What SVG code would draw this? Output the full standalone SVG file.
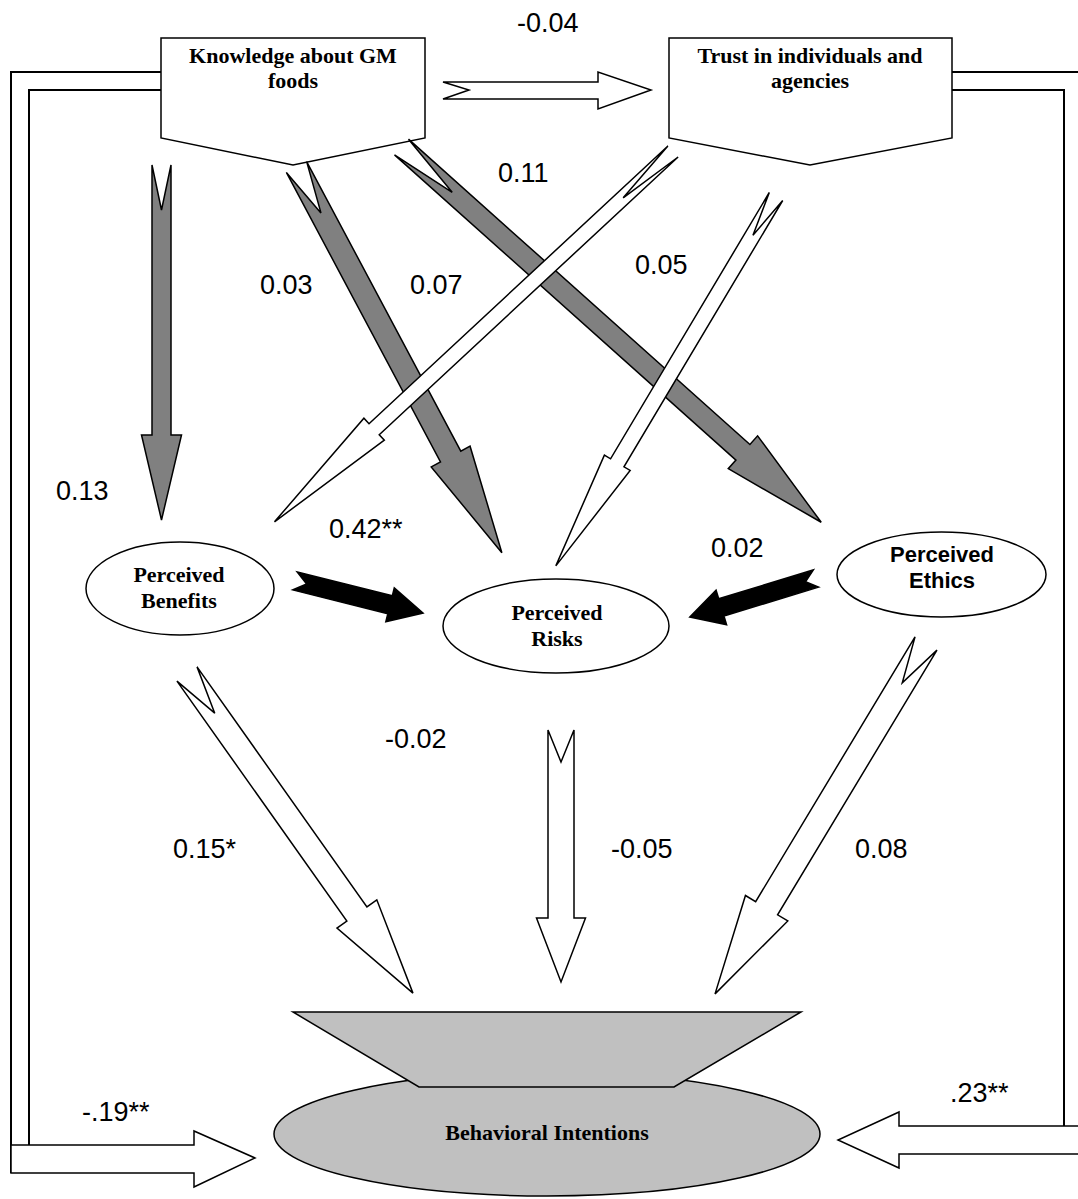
<svg xmlns="http://www.w3.org/2000/svg" width="1078" height="1199" viewBox="0 0 1078 1199">
<style>
.bg{fill:#ffffff}
.node{fill:#ffffff;stroke:#000;stroke-width:1.5}
.bi{fill:#c0c0c0;stroke:#000;stroke-width:1.5}
.ser{font-family:"Liberation Serif","Times New Roman",serif;font-weight:bold;font-size:22px;fill:#000;text-anchor:middle}
.sans{font-family:"Liberation Sans",Arial,sans-serif;font-weight:bold;font-size:22px;fill:#000;text-anchor:middle}
.lbl{font-family:"Liberation Sans",Arial,sans-serif;font-size:27px;fill:#000}
.gray{fill:#808080;stroke:#000;stroke-width:1.5;stroke-linejoin:miter}
.white{fill:#ffffff;stroke:#000;stroke-width:1.5;stroke-linejoin:miter}
.black{fill:#000;stroke:#000;stroke-width:1.5}
.line{fill:none;stroke:#000;stroke-width:2}
</style>
<rect class="bg" x="0" y="0" width="1078" height="1199"/>

<g id="knowledge">
<polygon class="node" points="161,38 425,38 425,138 293,165 161,138"/>
<text class="ser" x="293" y="63">Knowledge about GM</text>
<text class="ser" x="293" y="88">foods</text>
</g>
<g id="trust">
<polygon class="node" points="669,38 952,38 952,138 810,165 669,138"/>
<text class="ser" x="810" y="63">Trust in individuals and</text>
<text class="ser" x="810" y="88">agencies</text>
</g>
<g id="benefits">
<ellipse class="node" cx="180" cy="588.5" rx="94" ry="46.5"/>
<text class="ser" x="179" y="582">Perceived</text>
<text class="ser" x="179" y="608">Benefits</text>
</g>
<g id="risks">
<ellipse class="node" cx="556" cy="626" rx="113" ry="47"/>
<text class="ser" x="557" y="620">Perceived</text>
<text class="ser" x="557" y="646">Risks</text>
</g>
<g id="ethics">
<ellipse class="node" cx="941.5" cy="574.5" rx="104.5" ry="42.5"/>
<text class="sans" x="942" y="562">Perceived</text>
<text class="sans" x="942" y="588">Ethics</text>
</g>
<g id="behavioral">
<ellipse class="bi" cx="547" cy="1134" rx="273" ry="62"/>
<polygon class="bi" points="293,1012 801,1012 674,1087 419,1087"/>
<text class="ser" x="547" y="1140">Behavioral Intentions</text>
</g>

<g id="connectors">
<!-- left feedback: Knowledge -> Behavioral -->
<polyline class="line" points="161,72 11,72 11,1173"/>
<polyline class="line" points="161,90 29,90 29,1145"/>
<polygon class="white" points="11,1145 194,1145 194,1131 255,1158 194,1187 194,1173 11,1173"/>
<!-- right feedback: Trust -> Behavioral -->
<polyline class="line" points="952,72 1090,72"/>
<polyline class="line" points="952,90 1064,90 1064,1126"/>
<polygon class="white" points="1090,1126 899,1126 899,1112 838,1140 899,1168 899,1154 1090,1154"/>
<!-- Knowledge -> Trust -->
<polygon class="white" points="443,82 598,82 598,72 651,90 598,109 598,99 443,99 469,90"/>

<!-- gray arrows from Knowledge -->
<path class="gray" transform="translate(161.5,165) rotate(90)" d="M0,-9.5 L270,-9.5 L270,-20 L355,0 L270,20 L270,9.5 L0,9.5 L45,0 Z"/>
<path class="gray" transform="translate(296.5,167) rotate(61.97)" d="M0,-11.5 L328,-11.5 L328,-22 L437,0 L328,22 L328,11.5 L0,11.5 L52,0 Z"/>
<path class="gray" transform="translate(401.5,147) rotate(41.8)" d="M0,-10.5 L458,-10.5 L458,-22 L563,0 L458,22 L458,10.5 L0,10.5 L68,0 Z"/>

<!-- white arrows from Trust -->
<path class="white" transform="translate(673,151.5) rotate(137.1)" d="M0,-7.5 L408,-7.5 L408,-15 L544,0 L408,15 L408,7.5 L0,7.5 L68,0 Z"/>
<path class="white" transform="translate(776,196.5) rotate(120.8)" d="M0,-7.8 L310,-7.8 L310,-15 L430,0 L310,15 L310,7.8 L0,7.8 L45,0 Z"/>

<!-- black arrows into Risks -->
<path class="black" transform="translate(295,581) rotate(14.04)" d="M0,-9.2 L98,-9.2 L98,-17.4 L132,0 L98,17.4 L98,9.2 L0,9.2 L12,0 Z"/>
<path class="black" transform="translate(816,578.5) rotate(163)" d="M0,-9 L99,-9 L99,-18 L132,0 L99,18 L99,9 L0,9 L11,0 Z"/>

<!-- white arrows into Behavioral -->
<path class="white" transform="translate(187,674) rotate(54.7)" d="M0,-12.3 L294,-12.3 L294,-24.4 L391,0 L294,24.4 L294,12.3 L0,12.3 L48,0 Z"/>
<path class="white" transform="translate(561,730) rotate(90)" d="M0,-13 L188,-13 L188,-24.5 L252,0 L188,24.5 L188,13 L0,13 L32,0 Z"/>
<path class="white" transform="translate(926,643.5) rotate(121.05)" d="M0,-12.8 L309,-12.8 L309,-24.7 L409,0 L309,24.7 L309,12.8 L0,12.8 L46,0 Z"/>
</g>

<g id="labels">
<text class="lbl" x="517" y="32">-0.04</text>
<text class="lbl" x="498" y="182">0.11</text>
<text class="lbl" x="260" y="294">0.03</text>
<text class="lbl" x="410" y="294">0.07</text>
<text class="lbl" x="635" y="274">0.05</text>
<text class="lbl" x="56" y="500">0.13</text>
<text class="lbl" x="329" y="538">0.42**</text>
<text class="lbl" x="711" y="557">0.02</text>
<text class="lbl" x="385" y="748">-0.02</text>
<text class="lbl" x="173" y="858">0.15*</text>
<text class="lbl" x="611" y="858">-0.05</text>
<text class="lbl" x="855" y="858">0.08</text>
<text class="lbl" x="82" y="1121">-.19**</text>
<text class="lbl" x="950" y="1102">.23**</text>
</g>
</svg>
